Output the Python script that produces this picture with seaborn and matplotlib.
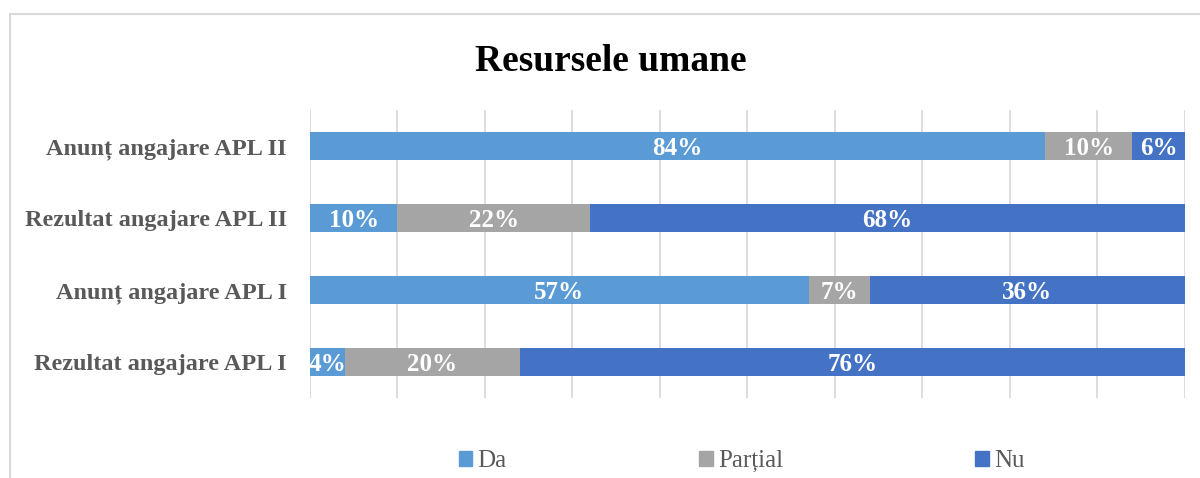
import matplotlib
matplotlib.use("Agg")
import matplotlib.pyplot as plt
from matplotlib.lines import Line2D
import pandas as pd
import seaborn as sns

# Data
categories = [
    "Anunț angajare APL II",
    "Rezultat angajare APL II",
    "Anunț angajare APL I",
    "Rezultat angajare APL I",
]
da = [84, 10, 57, 4]
partial = [10, 22, 7, 20]
nu = [6, 68, 36, 76]
series_names = ["Da", "Parțial", "Nu"]
colors = ["#5B9BD5", "#A5A5A5", "#4472C4"]

sns.set_style("white")
plt.rcParams["font.family"] = ["Liberation Serif", "DejaVu Serif"]

df = pd.DataFrame({"cat": categories, "Da": da, "Parțial": partial, "Nu": nu})
df["c1"] = df["Da"]
df["c2"] = df["Da"] + df["Parțial"]
df["c3"] = df["c2"] + df["Nu"]

fig = plt.figure(figsize=(12, 4.78), dpi=100)
ax = fig.add_axes([0.2583, 0.1674, 0.7292, 0.6025])

# stacked bars: draw cumulative totals from widest to narrowest
for col, color in zip(["c3", "c2", "c1"], colors[::-1]):
    sns.barplot(data=df, y="cat", x=col, color=color, width=0.39,
                saturation=1, ax=ax, orient="h", linewidth=0,
                edgecolor="none")

# data labels in the middle of each segment
for i, row in df.iterrows():
    left = 0
    for name in series_names:
        val = row[name]
        ax.text(left + val / 2, i, f"{val}%", ha="center",
                va="center_baseline", color="white", fontsize=18,
                fontweight="bold")
        left += val

ax.set_xlim(0, 100)
ax.set_ylim(3.5, -0.5)
ax.set_xticks(range(0, 101, 10))
ax.set_xticklabels([])
ax.grid(axis="x", color="#D9D9D9", linewidth=1.3)
ax.set_axisbelow(True)
for s in ax.spines.values():
    s.set_visible(False)
ax.set_xlabel("")
ax.set_ylabel("")
ax.tick_params(axis="y", length=0, pad=16.5)
ax.tick_params(axis="x", length=0)
for lab in ax.get_yticklabels():
    lab.set_fontweight("bold")
    lab.set_fontsize(17.5)
    lab.set_color("#595959")

fig.text(0.509, 0.872, "Resursele umane", ha="center", va="center",
         fontsize=27, fontweight="bold", color="black")

handles = [plt.Rectangle((0, 0), 1, 1, color=c) for c in colors]
fig.legend(handles, series_names, loc="center", bbox_to_anchor=(0.618, 0.035),
           ncol=3, frameon=False, fontsize=18, handlelength=0.55,
           handleheight=0.55, handletextpad=0.2, columnspacing=7.7,
           labelcolor="#595959")

# outer chart frame (left and top edges visible)
fig.add_artist(Line2D([10 / 1200, 10 / 1200], [0, 1 - 14 / 478],
                      transform=fig.transFigure, color="#D9D9D9", lw=1.5))
fig.add_artist(Line2D([10 / 1200, 1], [1 - 14 / 478, 1 - 14 / 478],
                      transform=fig.transFigure, color="#D9D9D9", lw=1.5))

fig.savefig("out.png", dpi=100)
